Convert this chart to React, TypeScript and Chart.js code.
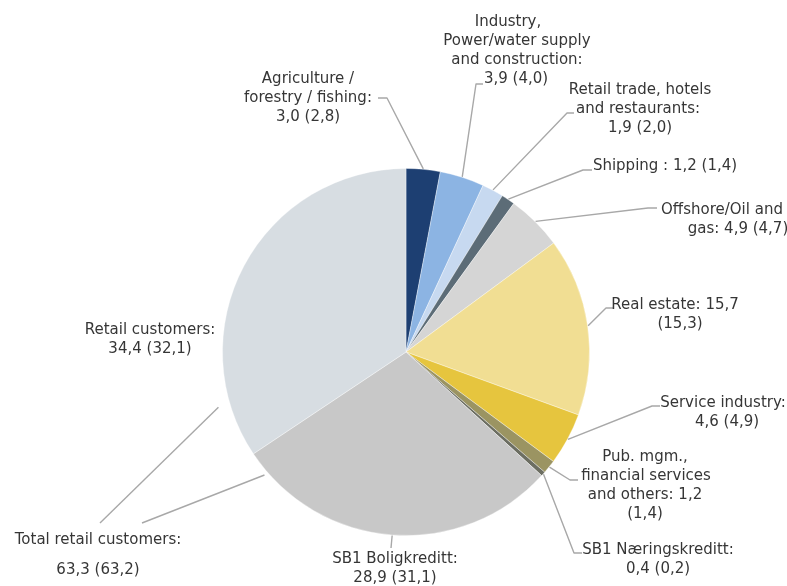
import { useEffect, useRef } from "react";
import { Chart, ArcElement, PieController } from "chart.js";

Chart.register(ArcElement, PieController);

// ---- data ----
const categories = [
  "Agriculture / forestry / fishing",
  "Industry, Power/water supply and construction",
  "Retail trade, hotels and restaurants",
  "Shipping",
  "Offshore/Oil and gas",
  "Real estate",
  "Service industry",
  "Pub. mgm., financial services and others",
  "SB1 Næringskreditt",
  "SB1 Boligkreditt",
  "Retail customers",
];
const values = [3.0, 3.9, 1.9, 1.2, 4.9, 15.7, 4.6, 1.2, 0.4, 28.9, 34.4];
const previousValues = [2.8, 4.0, 2.0, 1.4, 4.7, 15.3, 4.9, 1.4, 0.2, 31.1, 32.1];
const totalRetailValue = 63.3;
const totalRetailPrevious = 63.2;

// label text per slice ({v} = value, {p} = previous value)
const labelLines = [
  ["Agriculture /", "forestry / fishing:", "{v} ({p})"],
  ["Industry,", "Power/water supply", "and construction:", "{v} ({p})"],
  ["Retail trade, hotels", "and restaurants:", "{v} ({p})"],
  ["Shipping : {v} ({p})"],
  ["Offshore/Oil and", "gas: {v} ({p})"],
  ["Real estate: {v}", "({p})"],
  ["Service industry:", "{v} ({p})"],
  ["Pub. mgm.,", "financial services", "and others: {v}", "({p})"],
  ["SB1 Næringskreditt:", "{v} ({p})"],
  ["SB1 Boligkreditt:", "{v} ({p})"],
  ["Retail customers:", "{v} ({p})"],
];
const totalLabelLines = ["Total retail customers:", "", "{v} ({p})"];

const colors = [
  "#1d3f72",
  "#8cb4e3",
  "#c7d9f0",
  "#5c6c77",
  "#d5d5d5",
  "#f1de93",
  "#e6c53e",
  "#9b9462",
  "#6c6e62",
  "#c8c8c8",
  "#d7dde2",
];

// ---- label layout (text centre x per line, first line y, leader elbow + end) ----
type Layout = {
  xs: number[];
  y: number;
  leader: number[][] | null;
};
const layouts: Layout[] = [
  { xs: [308, 308, 308], y: 79, leader: [[387, 98], [378, 98]] },
  { xs: [508, 517, 517, 516], y: 22, leader: [[476, 84], [483, 84]] },
  { xs: [640, 638, 640], y: 90, leader: [[567, 113], [574, 113]] },
  { xs: [665], y: 166, leader: [[583, 170], [592, 170]] },
  { xs: [722, 738], y: 210, leader: [[648, 208], [657, 208]] },
  { xs: [675, 680], y: 305, leader: [[606, 308], [613, 308]] },
  { xs: [723, 727], y: 403, leader: [[652, 406], [660, 406]] },
  { xs: [645, 646, 645, 645], y: 457, leader: [[570, 480], [578, 480]] },
  { xs: [658, 658], y: 550, leader: [[574, 553], [582, 553]] },
  { xs: [395, 395], y: 559, leader: [[391, 548]] },
  { xs: [150, 150], y: 330, leader: null },
];
const totalLayout = { x: 98, y: 540, lineH: 15 };
// leaders for "Total retail customers": [slice index, fraction along slice, radial gap, end x, end y]
const totalLeaders: [number, number, number, number, number][] = [
  [10, 0.14, 12, 100, 523],
  [9, 0.93, 4, 142, 523],
];

const fmt = (n: number) => n.toFixed(1).replace(".", ",");
const fill = (s: string, v: number, p: number) =>
  s.replace("{v}", fmt(v)).replace("{p}", fmt(p));

const FONT = '15px "DejaVu Sans", sans-serif';
const TEXT = "#363636";
const LINE = "#a8a8a8";
const LH = 19;

const labelPlugin = {
  id: "pieLabels",
  afterDraw(chart: any) {
    const ctx = chart.ctx as CanvasRenderingContext2D;
    const meta = chart.getDatasetMeta(0);
    ctx.save();
    ctx.strokeStyle = LINE;
    ctx.lineWidth = 1.4;
    ctx.lineJoin = "round";
    meta.data.forEach((arc: any, i: number) => {
      const lay = layouts[i];
      if (!lay || !lay.leader) return;
      const { x, y, startAngle, endAngle, outerRadius } = arc.getProps(
        ["x", "y", "startAngle", "endAngle", "outerRadius"],
        true
      );
      const mid = (startAngle + endAngle) / 2;
      const ax = x + Math.cos(mid) * (outerRadius + 0.5);
      const ay = y + Math.sin(mid) * (outerRadius + 0.5);
      ctx.beginPath();
      ctx.moveTo(ax, ay);
      lay.leader.forEach((p) => ctx.lineTo(p[0], p[1]));
      ctx.stroke();
    });
    totalLeaders.forEach(([idx, frac, gap, ex, ey]) => {
      const arc = meta.data[idx];
      const { x, y, startAngle, endAngle, outerRadius } = arc.getProps(
        ["x", "y", "startAngle", "endAngle", "outerRadius"],
        true
      );
      const a = startAngle + (endAngle - startAngle) * frac;
      ctx.beginPath();
      ctx.moveTo(x + Math.cos(a) * (outerRadius + gap), y + Math.sin(a) * (outerRadius + gap));
      ctx.lineTo(ex, ey);
      ctx.stroke();
    });

    ctx.fillStyle = TEXT;
    ctx.font = FONT;
    ctx.textAlign = "center";
    ctx.textBaseline = "middle";
    labelLines.forEach((lines, i) => {
      const lay = layouts[i];
      lines.forEach((s, j) => {
        ctx.fillText(fill(s, values[i], previousValues[i]), lay.xs[j], lay.y + j * LH);
      });
    });
    totalLabelLines.forEach((s, j) => {
      if (!s) return;
      ctx.fillText(
        fill(s, totalRetailValue, totalRetailPrevious),
        totalLayout.x,
        totalLayout.y + j * totalLayout.lineH
      );
    });
    ctx.restore();
  },
};

export default function App() {
  const ref = useRef<HTMLCanvasElement | null>(null);
  useEffect(() => {
    document.body.style.margin = "0";
    document.body.style.background = "#ffffff";
    const canvas = ref.current;
    if (!canvas) return;
    const chart = new Chart(canvas, {
      type: "pie",
      data: {
        labels: categories,
        datasets: [
          {
            data: values,
            backgroundColor: colors,
            borderColor: "rgba(255,255,255,0.35)",
            borderWidth: 1,
          },
        ],
      },
      options: {
        responsive: false,
        animation: false,
        devicePixelRatio: 1,
        layout: { padding: { top: 168, bottom: 50, left: 222, right: 197 } },
        plugins: {
          legend: { display: false },
          tooltip: { enabled: false },
        },
      },
      plugins: [labelPlugin],
    });
    return () => chart.destroy();
  }, []);
  return (
    <div style={{ position: "absolute", left: 0, top: 0, width: 787, height: 586, background: "#fff" }}>
      <canvas ref={ref} width={787} height={586} />
    </div>
  );
}
